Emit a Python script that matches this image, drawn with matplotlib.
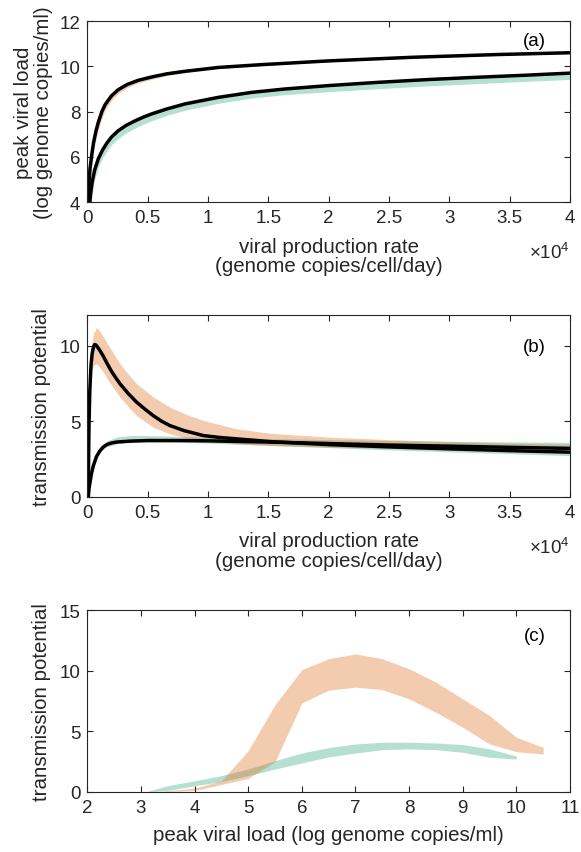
import matplotlib
matplotlib.use("Agg")
import matplotlib.pyplot as plt
from matplotlib.ticker import FuncFormatter

plt.rcParams["font.family"] = ["Liberation Sans", "DejaVu Sans"]
plt.rcParams["mathtext.fontset"] = "custom"
plt.rcParams["mathtext.rm"] = "Liberation Sans"

AX_COL = "#262626"
ORANGE = (0.87, 0.42, 0.10)
TEAL = (0.16, 0.65, 0.49)
BAND_ALPHA = 0.35
TICK_FS = 13.5
LABEL_FS = 14.8
LW = 2.5

# (a) peak viral load vs production rate
a_hi_x = [60, 100, 150, 220, 354, 500, 700, 906, 1200, 1459, 2000, 2563, 3300, 4200,
          5329, 6600, 8089, 10852, 14300, 20000, 27000, 34000, 40000]
a_hi_y = [4.0, 4.5, 5.0, 5.5, 6.06, 6.6, 7.12, 7.53, 8.0, 8.3, 8.7, 8.97, 9.2, 9.38,
          9.53, 9.67, 9.78, 9.95, 10.07, 10.24, 10.4, 10.52, 10.6]
a_hi_lo = [4.0, 4.1, 4.5, 5.0, 5.6, 6.2, 6.75, 7.2, 7.7, 8.05, 8.5, 8.8, 9.06, 9.26,
           9.43, 9.59, 9.72, 9.9, 10.03, 10.2, 10.36, 10.48, 10.56]
a_hi_up = [4.0, 4.6, 5.1, 5.6, 6.15, 6.7, 7.2, 7.6, 8.05, 8.35, 8.74, 9.0, 9.23, 9.41,
           9.56, 9.7, 9.81, 9.98, 10.1, 10.27, 10.43, 10.55, 10.63]

a_lo_x = [200, 300, 400, 600, 906, 1250, 1600, 2000, 2563, 3200, 3900, 4600, 5329,
          6600, 8089, 10852, 13614, 16377, 20000, 24000, 28000, 32000, 36000, 40000]
a_lo_y = [4.0, 4.5, 4.9, 5.42, 5.92, 6.3, 6.6, 6.88, 7.16, 7.39, 7.58, 7.75, 7.9,
          8.12, 8.34, 8.63, 8.85, 9.0, 9.15, 9.29, 9.41, 9.51, 9.6, 9.7]
a_lo_lo = [4.0, 4.1, 4.5, 5.0, 5.55, 5.95, 6.25, 6.55, 6.82, 7.06, 7.26, 7.44, 7.6,
           7.84, 8.06, 8.37, 8.6, 8.75, 8.88, 9.01, 9.13, 9.23, 9.33, 9.42]
a_lo_up = [4.0, 4.55, 4.95, 5.47, 5.97, 6.35, 6.65, 6.92, 7.2, 7.43, 7.62, 7.79, 7.94,
           8.16, 8.37, 8.66, 8.88, 9.03, 9.18, 9.32, 9.44, 9.54, 9.63, 9.73]

# (b) transmission potential vs production rate
b_or_x = [75, 100, 140, 200, 300, 400, 500, 600, 700, 850, 1100, 1320, 1650, 2000, 2350,
          2700, 3400, 4080, 4800, 5460, 6150, 6840, 8000, 9610, 11000, 12380, 15140,
          20000, 25000, 30000, 35000, 40000]
b_or_y = [0.0, 2.5, 5.0, 7.0, 8.7, 9.5, 9.9, 10.07, 10.05, 9.9, 9.6, 9.3, 8.8, 8.3,
          7.88, 7.48, 6.82, 6.26, 5.78, 5.37, 5.0, 4.71, 4.38, 4.05, 3.92, 3.83, 3.65,
          3.45, 3.3, 3.17, 3.05, 2.95]
b_or_bx = [250, 350, 500, 768, 1000, 1320, 1650, 2000, 2702, 3400, 4083, 5465, 6846,
           8200, 9609, 12372, 15135, 20000, 25000, 30000, 35000, 40000]
b_or_up = [9.0, 10.0, 10.8, 11.2, 11.0, 10.6, 10.15, 9.7, 8.8, 8.1, 7.48, 6.6, 5.93,
           5.45, 5.05, 4.49, 4.2, 3.95, 3.78, 3.65, 3.55, 3.47]
b_or_lo = [8.0, 8.4, 8.7, 8.8, 8.6, 8.25, 7.8, 7.4, 6.6, 5.95, 5.37, 4.6, 4.16,
           3.9, 3.72, 3.5, 3.39, 3.28, 3.2, 3.12, 3.06, 3.0]

b_te_x = [75, 130, 215, 330, 490, 750, 1045, 1300, 1600, 2000, 2430, 3500, 5000, 7500,
          10000, 15000, 20000, 25000, 30000, 35000, 40000]
b_te_y = [0.0, 0.5, 0.93, 1.5, 2.04, 2.65, 3.04, 3.28, 3.45, 3.56, 3.62, 3.68, 3.72,
          3.72, 3.7, 3.62, 3.52, 3.42, 3.35, 3.27, 3.2]
b_te_bx = [1000, 1600, 2430, 3500, 5000, 7500, 10000, 15000, 20000, 25000, 30000,
           35000, 40000]
b_te_up = [3.1, 3.7, 3.95, 4.05, 4.05, 4.0, 3.95, 3.85, 3.78, 3.72, 3.67, 3.63, 3.6]
b_te_lo = [2.95, 3.3, 3.5, 3.6, 3.62, 3.6, 3.55, 3.4, 3.25, 3.1, 2.97, 2.85, 2.72]

# (c) transmission potential vs peak viral load
c_te_x = [3.1, 3.5, 4, 4.5, 5, 5.5, 6, 6.5, 7, 7.5, 8, 8.5, 9, 9.5, 10]
c_te_up = [0, 0.5, 0.9, 1.33, 1.88, 2.57, 3.2, 3.65, 3.95, 4.09, 4.09, 4.03, 3.9, 3.54, 2.95]
c_te_lo = [0, 0.1, 0.5, 0.83, 1.33, 1.88, 2.38, 2.88, 3.2, 3.48, 3.54, 3.48, 3.26, 2.85, 2.7]

c_or_x = [3.3, 3.5, 4, 4.5, 5, 5.5, 6, 6.5, 7, 7.5, 8, 8.5, 9, 9.5, 10, 10.5]
c_or_up = [0, 0.08, 0.3, 0.9, 3.4, 7.2, 10.1, 11.0, 11.4, 11.0, 10.17, 9.06, 7.68, 6.3, 4.5, 3.67]
c_or_lo = [0, 0.02, 0.1, 0.6, 1.1, 2.5, 7.35, 8.4, 8.65, 8.45, 7.68, 6.57, 5.33, 3.95, 3.31, 3.12]

prod_ticks = [0, 5000, 10000, 15000, 20000, 25000, 30000, 35000, 40000]


def style(ax):
    for s in ax.spines.values():
        s.set_color(AX_COL)
        s.set_linewidth(0.8)
    ax.tick_params(direction="in", top=True, right=True, length=4.5, width=0.8,
                   color=AX_COL, labelcolor=AX_COL, labelsize=TICK_FS, pad=5)


def prod_axis(ax):
    ax.set_xlim(0, 40000)
    ax.set_xticks(prod_ticks)
    ax.xaxis.set_major_formatter(FuncFormatter(lambda v, p: f"{v / 1e4:g}"))
    ax.set_xlabel("viral production rate\n(genome copies/cell/day)", color=AX_COL,
                  fontsize=LABEL_FS, linespacing=1.05)
    ax.xaxis.set_label_coords(0.5, -0.19)
    ax.text(1.0, -0.275, r"$\times\mathregular{10^4}$", transform=ax.transAxes,
            ha="right", va="center", color=AX_COL, fontsize=TICK_FS)


fig = plt.figure(figsize=(5.81, 8.53), dpi=100)
L, W, H = 0.1504, 0.8306, 0.2125
ax_a = fig.add_axes([L, 0.7617, W, H])
ax_b = fig.add_axes([L, 0.4165, W, H])
ax_c = fig.add_axes([L, 0.0707, W, H])

# panel (a)
ax_a.fill_between(a_lo_x, a_lo_lo, a_lo_up, color=TEAL, alpha=BAND_ALPHA, lw=0)
ax_a.fill_between(a_hi_x, a_hi_lo, a_hi_up, color=ORANGE, alpha=BAND_ALPHA, lw=0)
ax_a.plot(a_hi_x, a_hi_y, color="black", lw=LW, solid_joinstyle="round")
ax_a.plot(a_lo_x, a_lo_y, color="black", lw=LW, solid_joinstyle="round")
ax_a.set_ylim(4, 12)
ax_a.set_yticks([4, 6, 8, 10, 12])
prod_axis(ax_a)
ax_a.set_ylabel("peak viral load\n(log genome copies/ml)", color=AX_COL,
                fontsize=LABEL_FS, linespacing=1.05)
ax_a.yaxis.set_label_coords(-0.072, 0.5)
ax_a.text(0.927, 0.89, "(a)", transform=ax_a.transAxes, ha="center", va="center",
          color="black", fontsize=TICK_FS)
style(ax_a)

# panel (b)
ax_b.fill_between(b_te_bx, b_te_lo, b_te_up, color=TEAL, alpha=BAND_ALPHA, lw=0)
ax_b.fill_between(b_or_bx, b_or_lo, b_or_up, color=ORANGE, alpha=BAND_ALPHA, lw=0)
ax_b.plot(b_or_x, b_or_y, color="black", lw=LW, solid_joinstyle="round")
ax_b.plot(b_te_x, b_te_y, color="black", lw=LW, solid_joinstyle="round")
ax_b.set_ylim(0, 12)
ax_b.set_yticks([0, 5, 10])
prod_axis(ax_b)
ax_b.set_ylabel("transmission potential", color=AX_COL, fontsize=LABEL_FS)
ax_b.yaxis.set_label_coords(-0.075, 0.5)
ax_b.text(0.927, 0.83, "(b)", transform=ax_b.transAxes, ha="center", va="center",
          color="black", fontsize=TICK_FS)
style(ax_b)

# panel (c)
ax_c.fill_between(c_te_x, c_te_lo, c_te_up, color=TEAL, alpha=BAND_ALPHA, lw=0)
ax_c.fill_between(c_or_x, c_or_lo, c_or_up, color=ORANGE, alpha=BAND_ALPHA, lw=0)
ax_c.set_xlim(2, 11)
ax_c.set_ylim(0, 15)
ax_c.set_xticks(range(2, 12))
ax_c.set_yticks([0, 5, 10, 15])
ax_c.set_xlabel("peak viral load (log genome copies/ml)", color=AX_COL, fontsize=LABEL_FS)
ax_c.xaxis.set_label_coords(0.5, -0.185)
ax_c.set_ylabel("transmission potential", color=AX_COL, fontsize=LABEL_FS)
ax_c.yaxis.set_label_coords(-0.075, 0.5)
ax_c.text(0.927, 0.86, "(c)", transform=ax_c.transAxes, ha="center", va="center",
          color="black", fontsize=TICK_FS)
style(ax_c)

fig.savefig("out.png", dpi=100, facecolor="white")
